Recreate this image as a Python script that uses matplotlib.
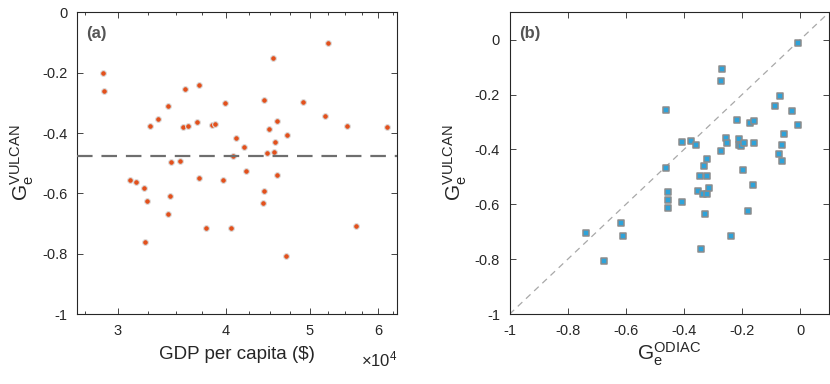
import numpy as np
import matplotlib
matplotlib.use('Agg')
import matplotlib.pyplot as plt
from matplotlib.ticker import FixedLocator, NullFormatter

plt.rcParams['font.family'] = ['Liberation Sans', 'DejaVu Sans']
plt.rcParams['mathtext.fontset'] = 'custom'
plt.rcParams['mathtext.rm'] = 'Liberation Sans'
plt.rcParams['mathtext.it'] = 'Liberation Sans'

# (a) GDP per capita vs G_e (VULCAN)
gdp = [2.88e4, 2.89e4, 3.098e4, 3.148e4, 3.215e4, 3.238e4, 3.22e4, 3.27e4,
       3.34e4, 3.43e4, 3.43e4, 3.443e4, 3.455e4, 3.539e4, 3.571e4, 3.59e4,
       3.616e4, 3.70e4, 3.727e4, 3.727e4, 3.794e4, 3.855e4, 3.886e4, 3.966e4,
       3.994e4, 4.058e4, 4.077e4, 4.106e4, 4.202e4, 4.22e4, 4.412e4, 4.424e4,
       4.428e4, 4.459e4, 4.487e4, 4.53e4, 4.547e4, 4.564e4, 4.58e4, 4.58e4,
       4.691e4, 4.708e4, 4.909e4, 5.205e4, 5.247e4, 5.52e4, 5.654e4, 6.148e4]
ge_vulcan_a = [-0.202, -0.262, -0.557, -0.561, -0.583, -0.625, -0.762, -0.377,
               -0.355, -0.309, -0.667, -0.609, -0.497, -0.493, -0.381, -0.253,
               -0.377, -0.365, -0.240, -0.548, -0.716, -0.373, -0.369, -0.557,
               -0.301, -0.716, -0.475, -0.415, -0.445, -0.527, -0.633, -0.292,
               -0.592, -0.467, -0.386, -0.150, -0.463, -0.429, -0.360, -0.540,
               -0.806, -0.407, -0.296, -0.344, -0.103, -0.377, -0.707, -0.381]
ge_mean = -0.475

# (b) G_e ODIAC vs G_e VULCAN
ge_odiac = [-0.006, -0.268, -0.274, -0.068, -0.087, -0.029, -0.006, -0.460,
            -0.216, -0.173, -0.158, -0.055, -0.406, -0.376, -0.358, -0.255,
            -0.251, -0.212, -0.212, -0.203, -0.193, -0.158, -0.064, -0.274,
            -0.074, -0.064, -0.322, -0.331, -0.460, -0.345, -0.322, -0.198,
            -0.162, -0.456, -0.456, -0.456, -0.350, -0.336, -0.322, -0.313,
            -0.406, -0.327, -0.181, -0.617, -0.608, -0.736, -0.674, -0.341,
            -0.238]
ge_vulcan_b = [-0.011, -0.106, -0.152, -0.204, -0.242, -0.260, -0.312, -0.255,
               -0.292, -0.302, -0.297, -0.343, -0.373, -0.368, -0.382, -0.358,
               -0.377, -0.363, -0.382, -0.387, -0.377, -0.377, -0.382, -0.405,
               -0.415, -0.443, -0.434, -0.461, -0.466, -0.495, -0.495, -0.476,
               -0.528, -0.556, -0.584, -0.612, -0.551, -0.561, -0.561, -0.541,
               -0.593, -0.635, -0.626, -0.667, -0.715, -0.705, -0.805, -0.762,
               -0.715]

gdp_ticks = [3e4, 4e4, 5e4, 6e4]
gdp_ticklabels = ['3', '4', '5', '6']
gdp_minor = np.arange(2.75e4, 6.3e4, 2500)
ya_ticks = [-1, -0.8, -0.6, -0.4, -0.2, 0]
yb_ticks = [-1, -0.8, -0.6, -0.4, -0.2, 0]
tick_fmt = ['-1', '-0.8', '-0.6', '-0.4', '-0.2', '0']

axc = '#262626'
fig = plt.figure(figsize=(8.3, 3.84), dpi=100)
ax1 = fig.add_axes([0.0928, 0.182, 0.3855, 0.786])
ax2 = fig.add_axes([0.614, 0.182, 0.385, 0.786])

# panel a
ax1.scatter(gdp, ge_vulcan_a, s=17, c='#E2501C', edgecolors='#dcdcdc', linewidths=0.8, zorder=2)
ax1.axhline(ge_mean, color='#6e6e6e', lw=1.6, dashes=(7, 4), zorder=3)
ax1.set_xscale('log')
ax1.set_xlim(2.69e4, 6.31e4)
ax1.set_ylim(-1, 0)
ax1.xaxis.set_major_locator(FixedLocator(gdp_ticks))
ax1.set_xticklabels(gdp_ticklabels)
ax1.xaxis.set_minor_locator(FixedLocator(gdp_minor))
ax1.xaxis.set_minor_formatter(NullFormatter())
ax1.set_yticks(ya_ticks)
ax1.set_yticklabels(tick_fmt)
ax1.set_xlabel('GDP per capita ($)', fontsize=13.5, color=axc, labelpad=6)
ax1.set_ylabel(r'$\mathregular{G_e^{VULCAN}}$', fontsize=15, color=axc, labelpad=4)
ax1.text(0.03, 0.955, '(a)', transform=ax1.transAxes, fontsize=12, fontweight='bold',
         color='#555555', va='top', ha='left')
ax1.text(1.0, -0.118, r'$\times\mathregular{10^4}$', transform=ax1.transAxes, fontsize=12,
         color=axc, ha='right', va='top')

# panel b
ax2.plot([-1, 0.1], [-1, 0.1], color='#a8a8a8', lw=0.9, dashes=(5, 4), zorder=1)
ax2.scatter(ge_odiac, ge_vulcan_b, s=21, marker='s', c='#2EA3DA', edgecolors='#8c8c8c',
            linewidths=1.1, zorder=2)
ax2.set_xlim(-1, 0.1)
ax2.set_ylim(-1, 0.1)
ax2.set_xticks(yb_ticks)
ax2.set_xticklabels(tick_fmt)
ax2.set_yticks(yb_ticks)
ax2.set_yticklabels(tick_fmt)
ax2.set_xlabel(r'$\mathregular{G_e^{ODIAC}}$', fontsize=15, color=axc, labelpad=2)
ax2.set_ylabel(r'$\mathregular{G_e^{VULCAN}}$', fontsize=15, color=axc, labelpad=4)
ax2.text(0.03, 0.955, '(b)', transform=ax2.transAxes, fontsize=12, fontweight='bold',
         color='#555555', va='top', ha='left')

for ax in (ax1, ax2):
    ax.tick_params(which='both', direction='in', top=True, right=True, colors=axc,
                   labelsize=10.5, width=0.6)
    ax.tick_params(which='major', length=4, pad=7)
    ax.tick_params(which='minor', length=2.5)
    for s in ax.spines.values():
        s.set_color(axc)
        s.set_linewidth(0.8)

fig.savefig('out.png', dpi=100)
